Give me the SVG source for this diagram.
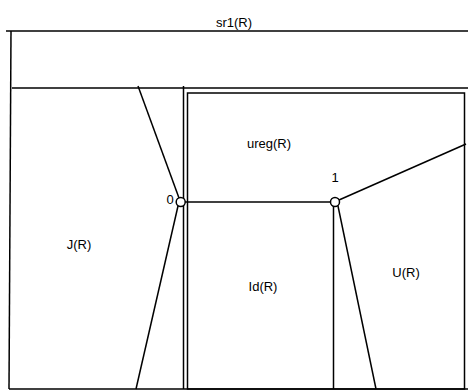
<svg xmlns="http://www.w3.org/2000/svg" width="468" height="392" viewBox="0 0 468 392">
<style>
.l{stroke:#000;stroke-width:1.5;fill:none}
.c{stroke:#000;stroke-width:1.5;fill:#fff}
text{font-family:"Liberation Sans",Arial,sans-serif;font-size:13px;fill:#000}
</style>
<rect width="468" height="392" fill="#fff"/>
<g id="sr1">
<line class="l" x1="6" y1="31" x2="468" y2="31"/>
<line class="l" x1="11" y1="31" x2="9" y2="389"/>
<line class="l" x1="9" y1="389" x2="468" y2="389"/>
<text x="234" y="27" text-anchor="middle">sr1(R)</text>
</g>
<g id="J">
<line class="l" x1="12" y1="88" x2="468" y2="88"/>
<text x="79" y="249" text-anchor="middle">J(R)</text>
</g>
<g id="Id">
<line class="l" x1="183.5" y1="86" x2="183.5" y2="389"/>
<text x="263" y="291" text-anchor="middle">Id(R)</text>
</g>
<g id="ureg">
<rect class="l" x="187.5" y="93" width="277" height="296"/>
<text x="269" y="148" text-anchor="middle">ureg(R)</text>
</g>
<g id="U">
<text x="406" y="277" text-anchor="middle">U(R)</text>
</g>
<g id="connectors">
<line class="l" x1="138" y1="86" x2="179" y2="198"/>
<line class="l" x1="178" y1="206" x2="136" y2="389"/>
<line class="l" x1="185" y1="202" x2="331" y2="202"/>
<line class="l" x1="339" y1="200" x2="466" y2="144"/>
<line class="l" x1="333.5" y1="206" x2="333.5" y2="389"/>
<line class="l" x1="338" y1="206" x2="376" y2="389"/>
</g>
<g id="n0">
<circle class="c" cx="180.7" cy="202" r="4.5"/>
<text x="170" y="204" text-anchor="middle">0</text>
</g>
<g id="n1">
<circle class="c" cx="335" cy="202" r="4.5"/>
<text x="335" y="182" text-anchor="middle">1</text>
</g>
</svg>
